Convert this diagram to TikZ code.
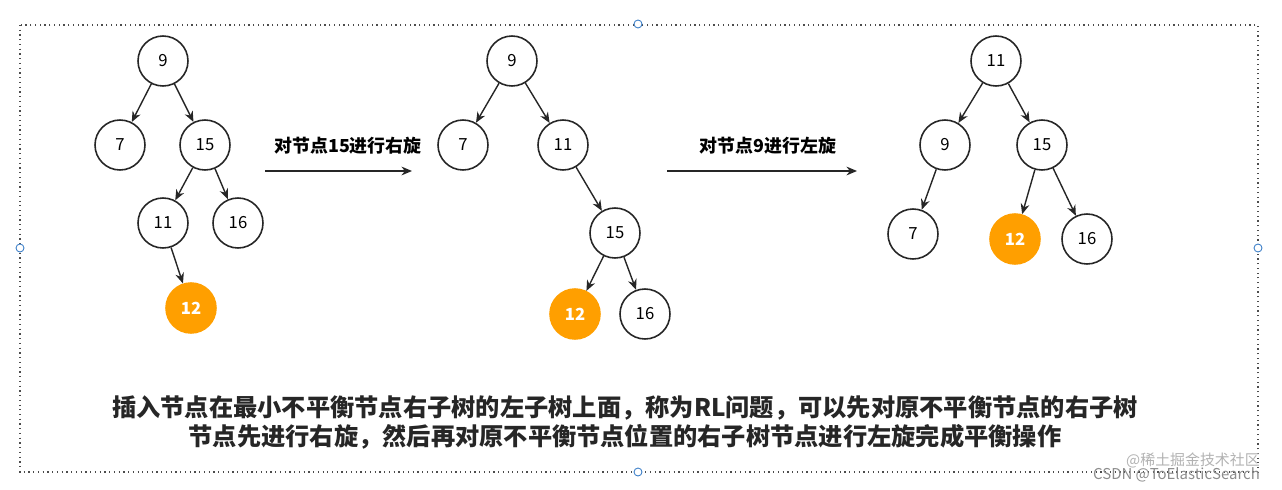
\documentclass[tikz,border=0pt]{standalone}
\usepackage{fontspec}
\setmainfont{Noto Sans CJK SC}
\usetikzlibrary{arrows.meta}
\definecolor{org}{HTML}{FF9F00}
\definecolor{hnd}{HTML}{3C7FC8}
\begin{document}
\begin{tikzpicture}[x=0.02cm,y=-0.02cm,
  tn/.style={draw=black!85,line width=0.9pt,circle,minimum size=1.0cm,inner sep=0pt,font=\fontsize{9.5}{10}\selectfont,fill=white},
  hl/.style={tn,fill=org,draw=org,text=white,font=\fontsize{9.5}{10}\selectfont\bfseries},
  ed/.style={-{Stealth[length=6pt,width=5pt]},line width=0.8pt,black!85},
  hd/.style={draw=hnd,fill=white,circle,minimum size=0.16cm,inner sep=0pt,line width=0.5pt}]
\useasboundingbox (0,0) rectangle (1282,490);
\draw[dotted,line width=0.7pt,black!70] (20,25) rectangle (1258,472);
\node[hd] (h1) at (638,24) {};
\node[hd] (h2) at (20,248) {};
\node[hd] (h3) at (1258,248) {};
\node[hd] (h4) at (638,472) {};
% tree 1
\node[tn] (a9) at (163,61) {9};
\node[tn] (a7) at (120,145) {7};
\node[tn] (a15) at (205,145) {15};
\node[tn] (a11) at (163,223) {11};
\node[tn] (a16) at (238,223) {16};
\node[hl] (a12) at (191,308) {12};
\draw[ed] (a9)--(a7); \draw[ed] (a9)--(a15);
\draw[ed] (a15)--(a11); \draw[ed] (a15)--(a16);
\draw[ed] (a11)--(a12);
% tree 2
\node[tn] (b9) at (512,61) {9};
\node[tn] (b7) at (463,145) {7};
\node[tn] (b11) at (563,145) {11};
\node[tn] (b15) at (615,233) {15};
\node[hl] (b12) at (575,314) {12};
\node[tn] (b16) at (645,314) {16};
\draw[ed] (b9)--(b7); \draw[ed] (b9)--(b11);
\draw[ed] (b11)--(b15);
\draw[ed] (b15)--(b12); \draw[ed] (b15)--(b16);
% tree 3
\node[tn] (c11) at (996,61) {11};
\node[tn] (c9) at (945,145) {9};
\node[tn] (c15) at (1042,145) {15};
\node[tn] (c7) at (913,234) {7};
\node[hl] (c12) at (1015,239) {12};
\node[tn] (c16) at (1087,239) {16};
\draw[ed] (c11)--(c9); \draw[ed] (c11)--(c15);
\draw[ed] (c9)--(c7);
\draw[ed] (c15)--(c12); \draw[ed] (c15)--(c16);
% arrows
\coordinate (r1s) at (265,171); \coordinate (r1e) at (412,171);
\coordinate (r2s) at (667,171); \coordinate (r2e) at (857,171);
\draw[ed] (r1s)--(r1e);
\draw[ed] (r2s)--(r2e);
\node[font=\fontsize{10.2}{12}\selectfont\bfseries] (l1) at (348,146) {对节点15进行右旋};
\node[font=\fontsize{10.2}{12}\selectfont\bfseries] (l2) at (768,146) {对节点9进行左旋};
% caption
\node[font=\fontsize{13.8}{15}\selectfont\bfseries,color=black!85] (t1) at (625,408) {插入节点在最小不平衡节点右子树的左子树上面，称为RL问题，可以先对原不平衡节点的右子树};
\node[font=\fontsize{13.8}{15}\selectfont\bfseries,color=black!85] (t2) at (625,437) {节点先进行右旋，然后再对原不平衡节点位置的右子树节点进行左旋完成平衡操作};
\node[font=\fontsize{8.5}{9}\selectfont,color=black!45,anchor=east] (w1) at (1266,475) {CSDN @ToElasticSearch};
\node[font=\fontsize{8.5}{9}\selectfont,color=black!30,anchor=east] (w2) at (1266,460) {@稀土掘金技术社区};
\end{tikzpicture}
\end{document}
